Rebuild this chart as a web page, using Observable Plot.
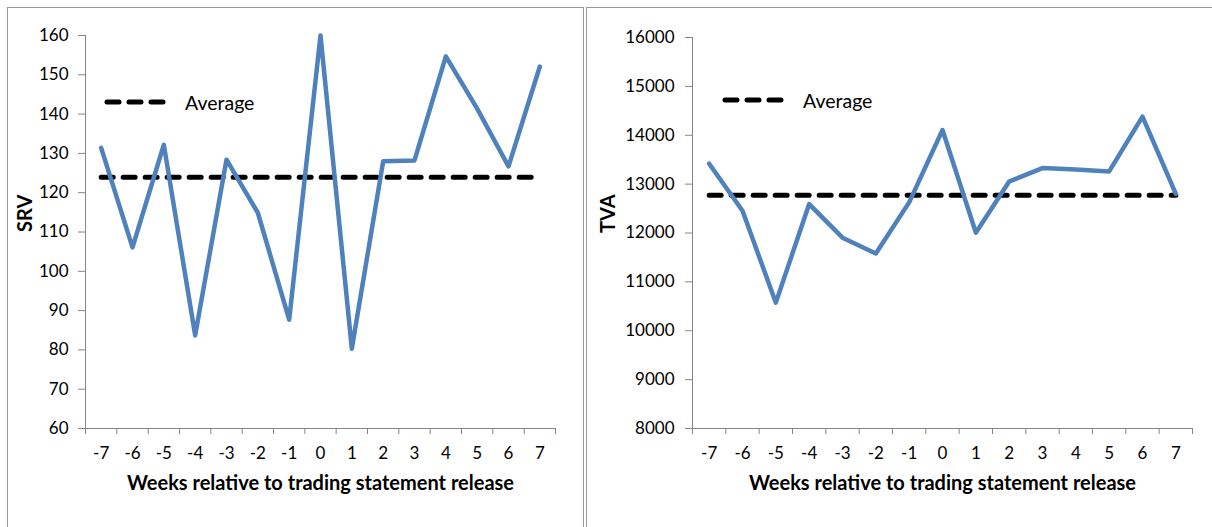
<!DOCTYPE html>
<html>
<head>
<meta charset="utf-8">
<script src="https://cdn.jsdelivr.net/npm/d3@7"></script>
<script src="https://cdn.jsdelivr.net/npm/@observablehq/plot@0.6"></script>
<style>
  body { margin: 0; background: #fff; width: 1212px; height: 527px; overflow: hidden; position: relative; font-family: Lato, sans-serif; }
  .panel { position: absolute; top: 7px; height: 540px; border: 1px solid #999; border-bottom: none; box-sizing: border-box; }
  .panel svg { position: absolute; left: 0; top: 0; }
  .legend { position: absolute; display: flex; align-items: center; font-size: 19.5px; color: #000; }
</style>
</head>
<body>
<div class="panel" id="left" style="left:7px; width:577px;"></div>
<div class="panel" id="right" style="left:586px; width:640px; border-right:none;"></div>
<div class="legend" style="left:104px; top:90px;"><svg width="70" height="24"><line x1="3" x2="65" y1="12" y2="12" stroke="#000" stroke-width="5" stroke-linecap="round" stroke-dasharray="12,10"/></svg><span style="margin-left:11px">Average</span></div>
<div class="legend" style="left:722px; top:88px;"><svg width="70" height="24"><line x1="3" x2="65" y1="12" y2="12" stroke="#000" stroke-width="5" stroke-linecap="round" stroke-dasharray="12,10"/></svg><span style="margin-left:11px">Average</span></div>
<script>
// weeks relative to release
const weeks = [-7, -6, -5, -4, -3, -2, -1, 0, 1, 2, 3, 4, 5, 6, 7]
const srv = [131.4, 106.1, 132.2, 83.7, 128.4, 114.9, 87.7, 160, 80.3, 128.0, 128.2, 154.7, 141.4, 126.7, 152.1]
const tva = [13418, 12454, 10575, 12592, 11904, 11580, 12627, 14107, 12007, 13053, 13329, 13300, 13260, 14382, 12800]
const srvAvg = 123.9
const tvaAvg = 12770
const srvTicks = d3.range(60, 161, 10)
const tvaTicks = d3.range(8000, 16001, 1000)
const xLabel = "Weeks relative to trading statement release"

const grey = "#868686"
const blue = "#4F81BD"
const bounds = d3.range(-7.5, 8, 1)

function panel(values, avg, yTicks, yName, o) {
  const rows = weeks.map((w, i) => ({week: w, value: values[i], avg: avg}))
  return Plot.plot({
    width: o.width,
    height: 510,
    marginLeft: o.ml,
    marginRight: o.mr,
    marginTop: o.mt,
    marginBottom: 90,
    style: {fontFamily: "Lato, sans-serif", fontSize: "17px", color: "#000", background: "transparent"},
    x: {domain: [-7.5, 7.5], axis: null},
    y: {domain: [yTicks[0], yTicks[yTicks.length - 1]], axis: null},
    marks: [
      Plot.ruleX([-7.5], {stroke: grey}),
      Plot.ruleY([yTicks[0]], {stroke: grey}),
      Plot.axisX(bounds, {tickSize: 6, tickFormat: () => "", stroke: grey, label: null}),
      Plot.axisX(weeks, {tickSize: 0, tickPadding: 18, fill: "#000", label: null, tickFormat: d => String(d)}),
      Plot.axisY(yTicks, {tickSize: 7, tickPadding: o.pad, stroke: grey, fill: "#000", label: null, tickFormat: d => String(d)}),
      Plot.line(rows, {x: "week", y: "avg", stroke: "#000", strokeWidth: 5, strokeDasharray: "12,10", strokeLinecap: "round"}),
      Plot.line(rows, {x: "week", y: "value", stroke: blue, strokeWidth: 4.5, strokeLinejoin: "round"}),
      Plot.text([yName], {frameAnchor: "left", rotate: -90, dx: o.ydx, fontWeight: "bold", fontSize: 20}),
      Plot.text([xLabel], {frameAnchor: "bottom", dy: 61, fontWeight: "bold", fontSize: 20})
    ]
  })
}

d3.select('#left').append(() => panel(srv, srvAvg, srvTicks, "SRV", {width: 575, ml: 77, mr: 28, mt: 27, pad: 10, ydx: -60}))
d3.select('#right').append(() => panel(tva, tvaAvg, tvaTicks, "TVA", {width: 625, ml: 105, mr: 20, mt: 29, pad: 11, ydx: -84}))
</script>
</body>
</html>
